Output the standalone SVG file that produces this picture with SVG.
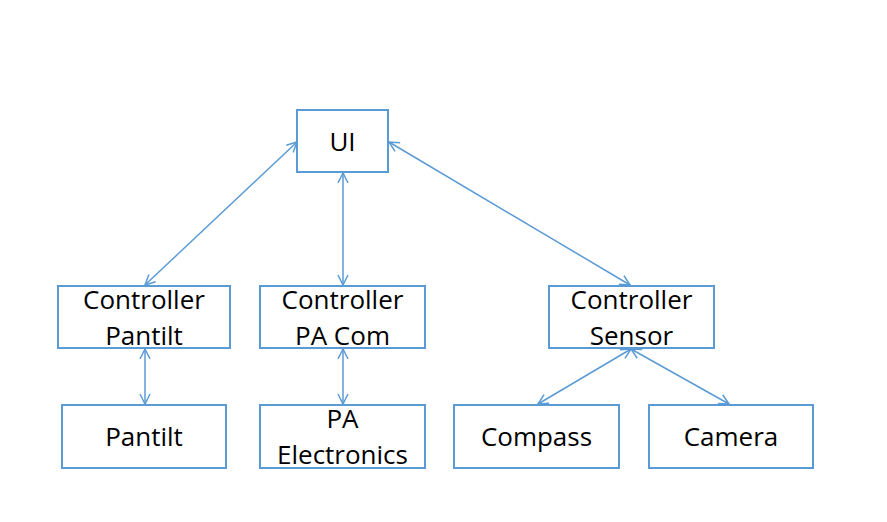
<svg xmlns="http://www.w3.org/2000/svg" width="887" height="522" viewBox="0 0 887 522">
<defs>
<style>
.box{fill:#fff;stroke:#5B9BD5;stroke-width:2}
.lbl{font-family:"Open Sans","Liberation Sans",sans-serif;font-size:26px;fill:#000;text-anchor:middle}
.con{stroke:#5B9BD5;stroke-width:1.5;fill:none;marker-start:url(#ah);marker-end:url(#ah)}
</style>
<marker id="ah" viewBox="0 0 12 12" refX="11" refY="6" markerWidth="12" markerHeight="12" markerUnits="userSpaceOnUse" orient="auto-start-reverse">
<path d="M1,1 L11,6 L1,11" fill="none" stroke="#5B9BD5" stroke-width="1.5"/>
</marker>
</defs>
<rect width="887" height="522" fill="#fff"/>
<g id="connectors">
<line class="con" x1="297" y1="142" x2="145" y2="285"/>
<line class="con" x1="343" y1="173" x2="343" y2="285"/>
<line class="con" x1="389" y1="142" x2="630" y2="285"/>
<line class="con" x1="145" y1="349" x2="145" y2="404"/>
<line class="con" x1="343" y1="349" x2="343" y2="404"/>
<line class="con" x1="631" y1="349" x2="538" y2="404"/>
<line class="con" x1="631" y1="349" x2="729" y2="404"/>
</g>
<g id="ui">
<rect class="box" x="297" y="110" width="91" height="62"/>
<text class="lbl" x="342.5" y="151">UI</text>
</g>
<g id="ctrl-pantilt">
<rect class="box" x="58" y="286" width="172" height="62"/>
<text class="lbl" x="144" y="309">Controller</text>
<text class="lbl" x="144" y="345">Pantilt</text>
</g>
<g id="ctrl-pacom">
<rect class="box" x="260" y="286" width="165" height="62"/>
<text class="lbl" x="342.5" y="309">Controller</text>
<text class="lbl" x="342.5" y="345">PA Com</text>
</g>
<g id="ctrl-sensor">
<rect class="box" x="549" y="286" width="165" height="62"/>
<text class="lbl" x="631.5" y="309">Controller</text>
<text class="lbl" x="631.5" y="345">Sensor</text>
</g>
<g id="pantilt">
<rect class="box" x="62" y="405" width="164" height="63"/>
<text class="lbl" x="144" y="446">Pantilt</text>
</g>
<g id="pa-electronics">
<rect class="box" x="260" y="405" width="165" height="63"/>
<text class="lbl" x="342.5" y="428">PA</text>
<text class="lbl" x="342.5" y="464">Electronics</text>
</g>
<g id="compass">
<rect class="box" x="454" y="405" width="165" height="63"/>
<text class="lbl" x="536.5" y="446">Compass</text>
</g>
<g id="camera">
<rect class="box" x="649" y="405" width="164" height="63"/>
<text class="lbl" x="731" y="446">Camera</text>
</g>
</svg>
